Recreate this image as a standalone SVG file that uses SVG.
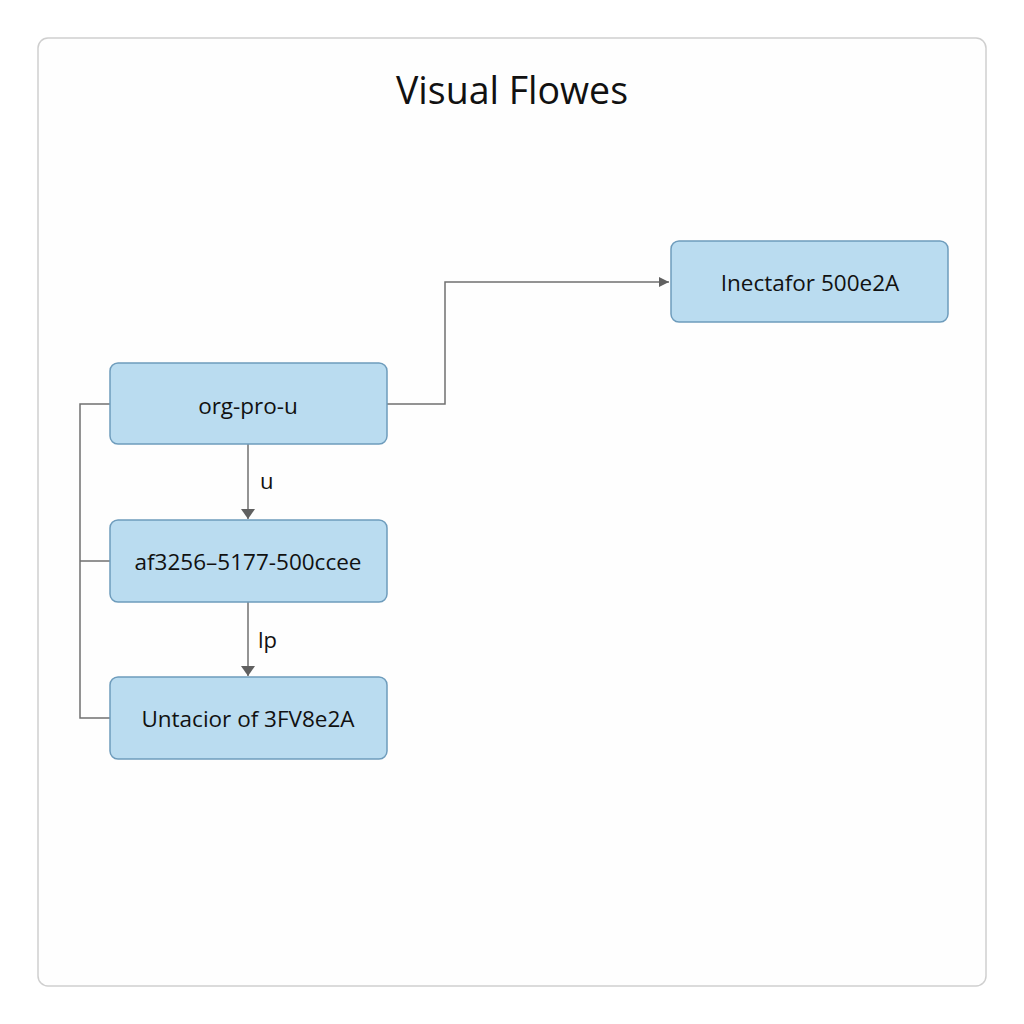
<svg xmlns="http://www.w3.org/2000/svg" width="1024" height="1024" viewBox="0 0 1024 1024">
<style>
.node rect{fill:#badcf0;stroke:#6e9cbc;stroke-width:1.5}
.node text{font-family:"Open Sans","Liberation Sans",sans-serif;font-size:22.5px;fill:#111;text-anchor:middle;dominant-baseline:central}
.conn{fill:none;stroke:#707070;stroke-width:1.5}
.lbl{font-family:"Open Sans","Liberation Sans",sans-serif;font-size:22px;fill:#111}
</style>
<defs>
<marker id="arr" viewBox="0 0 10 10" refX="10" refY="5" markerWidth="12" markerHeight="10" markerUnits="userSpaceOnUse" orient="auto">
<path d="M0,0 L10,5 L0,10 z" fill="#606060"/>
</marker>
<marker id="arrd" viewBox="0 0 10 14" refX="10" refY="7" markerWidth="12" markerHeight="14" markerUnits="userSpaceOnUse" orient="auto">
<path d="M0,0 L10,7 L0,14 z" fill="#606060"/>
</marker>
</defs>
<rect x="0" y="0" width="1024" height="1024" fill="#fff"/>
<rect x="38" y="38" width="948" height="948" rx="10" fill="#fefefe" stroke="#cfcfcf" stroke-width="1.5"/>
<text x="512" y="104" font-family="Open Sans,Liberation Sans,sans-serif" font-size="37.5" fill="#111" text-anchor="middle">Visual Flowes</text>
<g id="connectors">
<path class="conn" d="M387,404 H445 V282 H669" marker-end="url(#arr)"/>
<path class="conn" d="M248,444 V519" marker-end="url(#arrd)"/>
<path class="conn" d="M248,602 V676" marker-end="url(#arrd)"/>
<path class="conn" d="M110,404 H80 V718 H110 M80,561 H110"/>
<text class="lbl" x="260" y="489">u</text>
<text class="lbl" x="258" y="648">lp</text>
</g>
<g id="n1" class="node"><rect x="110" y="363" width="277" height="81" rx="8"/><text x="248" y="405">org-pro-u</text></g>
<g id="n2" class="node"><rect x="110" y="520" width="277" height="82" rx="8"/><text x="248" y="561">af3256–5177-500ccee</text></g>
<g id="n3" class="node"><rect x="110" y="677" width="277" height="82" rx="8"/><text x="248" y="718">Untacior of 3FV8e2A</text></g>
<g id="n4" class="node"><rect x="671" y="241" width="277" height="81" rx="8"/><text x="810" y="282">Inectafor 500e2A</text></g>
</svg>
